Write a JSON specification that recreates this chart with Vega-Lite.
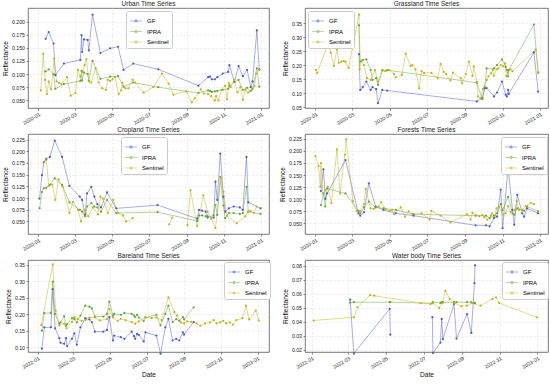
{
"$schema":"https://vega.github.io/schema/vega-lite/v6.json",
"autosize":{"type":"pad"},
"padding":{"left":2,"top":0,"right":6,"bottom":1},
"background":"white",
"config":{
"font":"Liberation Sans",
"view":{"stroke":"#555","strokeWidth":0.8},
"title":{"fontSize":6.5,"fontWeight":"normal","offset":1,"color":"#222","font":"Liberation Sans"},
"axis":{"labelFontSize":5.2,"titleFontSize":6.6,"labelColor":"#222","titleColor":"#111","grid":true,"gridColor":"#dddddd","gridDash":[2,2],"gridWidth":0.6,"domain":false,"tickColor":"#444","tickSize":2,"tickWidth":0.6,"labelPadding":1.5,"titleFontWeight":"normal","titlePadding":3},
"axisX":{"format":"%Y-%m","tickCount":{"interval":"month","step":2},"labelAngle":-30,"labelAlign":"right","labelBaseline":"top","titlePadding":2},
"legend":{"orient":"none","title":null,"fillColor":"white","strokeColor":"#cccccc","padding":3,"cornerRadius":2,"labelFontSize":6,"rowPadding":0.5,"symbolType":"M-1,0H1M-0.22,0a0.22,0.22 0 1,0 0.44,0a0.22,0.22 0 1,0 -0.44,0","symbolSize":150,"symbolStrokeWidth":0.8,"labelOffset":4}
},
"spacing":{"row":0,"column":8},
"columns":2,
"resolve":{"scale":{"x":"independent","y":"independent","color":"independent"},"legend":{"color":"independent"},"axis":{"x":"independent","y":"independent"}},
"data":{"values":[
{"p":"U","s":"GF","d":"2020-01-13","v":0.167},{"p":"U","s":"GF","d":"2020-01-18","v":0.180},{"p":"U","s":"GF","d":"2020-01-26","v":0.158},{"p":"U","s":"GF","d":"2020-01-29","v":0.098},{"p":"U","s":"GF","d":"2020-02-12","v":0.120},{"p":"U","s":"GF","d":"2020-03-10","v":0.127},{"p":"U","s":"GF","d":"2020-03-12","v":0.174},{"p":"U","s":"GF","d":"2020-03-13","v":0.142},{"p":"U","s":"GF","d":"2020-03-16","v":0.166},{"p":"U","s":"GF","d":"2020-03-22","v":0.165},{"p":"U","s":"GF","d":"2020-03-24","v":0.145},{"p":"U","s":"GF","d":"2020-03-30","v":0.213},{"p":"U","s":"GF","d":"2020-04-12","v":0.140},{"p":"U","s":"GF","d":"2020-04-28","v":0.149},{"p":"U","s":"GF","d":"2020-05-11","v":0.152},{"p":"U","s":"GF","d":"2020-05-20","v":0.108},{"p":"U","s":"GF","d":"2020-06-05","v":0.120},{"p":"U","s":"GF","d":"2020-07-16","v":0.109},{"p":"U","s":"GF","d":"2020-09-20","v":0.078},{"p":"U","s":"GF","d":"2020-10-06","v":0.094},{"p":"U","s":"GF","d":"2020-10-09","v":0.095},{"p":"U","s":"GF","d":"2020-10-12","v":0.090},{"p":"U","s":"GF","d":"2020-10-17","v":0.090},{"p":"U","s":"GF","d":"2020-10-21","v":0.094},{"p":"U","s":"GF","d":"2020-10-30","v":0.101},{"p":"U","s":"GF","d":"2020-11-08","v":0.104},{"p":"U","s":"GF","d":"2020-11-10","v":0.117},{"p":"U","s":"GF","d":"2020-11-18","v":0.085},{"p":"U","s":"GF","d":"2020-11-25","v":0.115},{"p":"U","s":"GF","d":"2020-12-02","v":0.096},{"p":"U","s":"GF","d":"2020-12-09","v":0.108},{"p":"U","s":"GF","d":"2020-12-15","v":0.075},{"p":"U","s":"GF","d":"2020-12-18","v":0.086},{"p":"U","s":"GF","d":"2020-12-25","v":0.183},{"p":"U","s":"GF","d":"2020-12-29","v":0.109},
{"p":"U","s":"IPRA","d":"2020-01-13","v":0.105},{"p":"U","s":"IPRA","d":"2020-01-18","v":0.109},{"p":"U","s":"IPRA","d":"2020-01-26","v":0.100},{"p":"U","s":"IPRA","d":"2020-01-29","v":0.072},{"p":"U","s":"IPRA","d":"2020-02-12","v":0.081},{"p":"U","s":"IPRA","d":"2020-03-10","v":0.087},{"p":"U","s":"IPRA","d":"2020-03-12","v":0.106},{"p":"U","s":"IPRA","d":"2020-03-13","v":0.088},{"p":"U","s":"IPRA","d":"2020-03-16","v":0.103},{"p":"U","s":"IPRA","d":"2020-03-22","v":0.100},{"p":"U","s":"IPRA","d":"2020-03-24","v":0.087},{"p":"U","s":"IPRA","d":"2020-03-30","v":0.125},{"p":"U","s":"IPRA","d":"2020-04-12","v":0.091},{"p":"U","s":"IPRA","d":"2020-04-28","v":0.095},{"p":"U","s":"IPRA","d":"2020-05-11","v":0.096},{"p":"U","s":"IPRA","d":"2020-05-20","v":0.076},{"p":"U","s":"IPRA","d":"2020-06-05","v":0.084},{"p":"U","s":"IPRA","d":"2020-07-16","v":0.075},{"p":"U","s":"IPRA","d":"2020-09-20","v":0.064},{"p":"U","s":"IPRA","d":"2020-10-06","v":0.069},{"p":"U","s":"IPRA","d":"2020-10-09","v":0.068},{"p":"U","s":"IPRA","d":"2020-10-12","v":0.066},{"p":"U","s":"IPRA","d":"2020-10-17","v":0.067},{"p":"U","s":"IPRA","d":"2020-10-21","v":0.068},{"p":"U","s":"IPRA","d":"2020-10-30","v":0.070},{"p":"U","s":"IPRA","d":"2020-11-08","v":0.072},{"p":"U","s":"IPRA","d":"2020-11-10","v":0.078},{"p":"U","s":"IPRA","d":"2020-11-18","v":0.085},{"p":"U","s":"IPRA","d":"2020-11-25","v":0.089},{"p":"U","s":"IPRA","d":"2020-12-02","v":0.070},{"p":"U","s":"IPRA","d":"2020-12-09","v":0.074},{"p":"U","s":"IPRA","d":"2020-12-15","v":0.068},{"p":"U","s":"IPRA","d":"2020-12-18","v":0.072},{"p":"U","s":"IPRA","d":"2020-12-25","v":0.111},{"p":"U","s":"IPRA","d":"2020-12-29","v":0.076},
{"p":"U","s":"Sentinel","d":"2020-01-05","v":0.069},{"p":"U","s":"Sentinel","d":"2020-01-09","v":0.139},{"p":"U","s":"Sentinel","d":"2020-01-12","v":0.089},{"p":"U","s":"Sentinel","d":"2020-01-15","v":0.062},{"p":"U","s":"Sentinel","d":"2020-01-18","v":0.086},{"p":"U","s":"Sentinel","d":"2020-01-22","v":0.071},{"p":"U","s":"Sentinel","d":"2020-01-27","v":0.130},{"p":"U","s":"Sentinel","d":"2020-01-31","v":0.086},{"p":"U","s":"Sentinel","d":"2020-02-04","v":0.083},{"p":"U","s":"Sentinel","d":"2020-02-08","v":0.081},{"p":"U","s":"Sentinel","d":"2020-02-17","v":0.094},{"p":"U","s":"Sentinel","d":"2020-02-23","v":0.059},{"p":"U","s":"Sentinel","d":"2020-03-02","v":0.064},{"p":"U","s":"Sentinel","d":"2020-03-06","v":0.108},{"p":"U","s":"Sentinel","d":"2020-03-10","v":0.095},{"p":"U","s":"Sentinel","d":"2020-03-14","v":0.105},{"p":"U","s":"Sentinel","d":"2020-03-17","v":0.117},{"p":"U","s":"Sentinel","d":"2020-03-20","v":0.128},{"p":"U","s":"Sentinel","d":"2020-03-24","v":0.086},{"p":"U","s":"Sentinel","d":"2020-03-28","v":0.084},{"p":"U","s":"Sentinel","d":"2020-04-04","v":0.111},{"p":"U","s":"Sentinel","d":"2020-04-09","v":0.084},{"p":"U","s":"Sentinel","d":"2020-04-15","v":0.073},{"p":"U","s":"Sentinel","d":"2020-04-21","v":0.070},{"p":"U","s":"Sentinel","d":"2020-04-24","v":0.089},{"p":"U","s":"Sentinel","d":"2020-04-28","v":0.087},{"p":"U","s":"Sentinel","d":"2020-05-02","v":0.090},{"p":"U","s":"Sentinel","d":"2020-05-06","v":0.094},{"p":"U","s":"Sentinel","d":"2020-05-12","v":0.062},{"p":"U","s":"Sentinel","d":"2020-05-16","v":0.069},{"p":"U","s":"Sentinel","d":"2020-05-18","v":0.084},{"p":"U","s":"Sentinel","d":"2020-05-23","v":0.073},{"p":"U","s":"Sentinel","d":"2020-05-28","v":0.073},{"p":"U","s":"Sentinel","d":"2020-06-04","v":0.089},{"p":"U","s":"Sentinel","d":"2020-06-08","v":0.084},{"p":"U","s":"Sentinel","d":"2020-06-22","v":0.065},{"p":"U","s":"Sentinel","d":"2020-07-08","v":0.075},{"p":"U","s":"Sentinel","d":"2020-07-22","v":0.101},{"p":"U","s":"Sentinel","d":"2020-08-02","v":0.082},{"p":"U","s":"Sentinel","d":"2020-08-10","v":0.061},{"p":"U","s":"Sentinel","d":"2020-08-31","v":0.067},{"p":"U","s":"Sentinel","d":"2020-09-09","v":0.046},{"p":"U","s":"Sentinel","d":"2020-09-14","v":0.054},{"p":"U","s":"Sentinel","d":"2020-09-24","v":0.071},{"p":"U","s":"Sentinel","d":"2020-09-29","v":0.063},{"p":"U","s":"Sentinel","d":"2020-10-06","v":0.062},{"p":"U","s":"Sentinel","d":"2020-10-11","v":0.058},{"p":"U","s":"Sentinel","d":"2020-10-17","v":0.050},{"p":"U","s":"Sentinel","d":"2020-10-19","v":0.058},{"p":"U","s":"Sentinel","d":"2020-10-23","v":0.050},{"p":"U","s":"Sentinel","d":"2020-10-28","v":0.070},{"p":"U","s":"Sentinel","d":"2020-11-03","v":0.078},{"p":"U","s":"Sentinel","d":"2020-11-06","v":0.052},{"p":"U","s":"Sentinel","d":"2020-11-09","v":0.083},{"p":"U","s":"Sentinel","d":"2020-11-12","v":0.075},{"p":"U","s":"Sentinel","d":"2020-11-18","v":0.089},{"p":"U","s":"Sentinel","d":"2020-11-23","v":0.065},{"p":"U","s":"Sentinel","d":"2020-11-28","v":0.075},{"p":"U","s":"Sentinel","d":"2020-12-02","v":0.051},{"p":"U","s":"Sentinel","d":"2020-12-06","v":0.070},{"p":"U","s":"Sentinel","d":"2020-12-11","v":0.065},{"p":"U","s":"Sentinel","d":"2020-12-17","v":0.070},{"p":"U","s":"Sentinel","d":"2020-12-21","v":0.077},{"p":"U","s":"Sentinel","d":"2020-12-24","v":0.101},{"p":"U","s":"Sentinel","d":"2020-12-29","v":0.108},
{"p":"G","s":"GF","d":"2020-03-12","v":0.239},{"p":"G","s":"GF","d":"2020-03-14","v":0.111},{"p":"G","s":"GF","d":"2020-03-18","v":0.121},{"p":"G","s":"GF","d":"2020-03-24","v":0.141},{"p":"G","s":"GF","d":"2020-03-31","v":0.111},{"p":"G","s":"GF","d":"2020-04-03","v":0.121},{"p":"G","s":"GF","d":"2020-04-09","v":0.114},{"p":"G","s":"GF","d":"2020-04-12","v":0.064},{"p":"G","s":"GF","d":"2020-04-19","v":0.111},{"p":"G","s":"GF","d":"2020-04-27","v":0.109},{"p":"G","s":"GF","d":"2020-09-20","v":0.070},{"p":"G","s":"GF","d":"2020-09-29","v":0.082},{"p":"G","s":"GF","d":"2020-10-03","v":0.117},{"p":"G","s":"GF","d":"2020-10-06","v":0.118},{"p":"G","s":"GF","d":"2020-10-18","v":0.088},{"p":"G","s":"GF","d":"2020-10-23","v":0.102},{"p":"G","s":"GF","d":"2020-10-31","v":0.141},{"p":"G","s":"GF","d":"2020-11-06","v":0.094},{"p":"G","s":"GF","d":"2020-11-08","v":0.088},{"p":"G","s":"GF","d":"2020-11-10","v":0.111},{"p":"G","s":"GF","d":"2020-11-11","v":0.097},{"p":"G","s":"GF","d":"2020-12-22","v":0.245},{"p":"G","s":"GF","d":"2020-12-29","v":0.105},
{"p":"G","s":"IPRA","d":"2020-03-12","v":0.342},{"p":"G","s":"IPRA","d":"2020-03-14","v":0.212},{"p":"G","s":"IPRA","d":"2020-03-18","v":0.218},{"p":"G","s":"IPRA","d":"2020-03-24","v":0.220},{"p":"G","s":"IPRA","d":"2020-03-31","v":0.182},{"p":"G","s":"IPRA","d":"2020-04-03","v":0.147},{"p":"G","s":"IPRA","d":"2020-04-09","v":0.153},{"p":"G","s":"IPRA","d":"2020-04-12","v":0.129},{"p":"G","s":"IPRA","d":"2020-04-19","v":0.182},{"p":"G","s":"IPRA","d":"2020-04-27","v":0.182},{"p":"G","s":"IPRA","d":"2020-09-20","v":0.137},{"p":"G","s":"IPRA","d":"2020-09-29","v":0.078},{"p":"G","s":"IPRA","d":"2020-10-03","v":0.121},{"p":"G","s":"IPRA","d":"2020-10-06","v":0.188},{"p":"G","s":"IPRA","d":"2020-10-18","v":0.188},{"p":"G","s":"IPRA","d":"2020-10-23","v":0.200},{"p":"G","s":"IPRA","d":"2020-10-31","v":0.220},{"p":"G","s":"IPRA","d":"2020-11-06","v":0.194},{"p":"G","s":"IPRA","d":"2020-11-08","v":0.182},{"p":"G","s":"IPRA","d":"2020-11-10","v":0.160},{"p":"G","s":"IPRA","d":"2020-11-11","v":0.182},{"p":"G","s":"IPRA","d":"2020-12-22","v":0.345},{"p":"G","s":"IPRA","d":"2020-12-29","v":0.173},
{"p":"G","s":"Sentinel","d":"2020-01-02","v":0.183},{"p":"G","s":"Sentinel","d":"2020-01-04","v":0.172},{"p":"G","s":"Sentinel","d":"2020-01-22","v":0.279},{"p":"G","s":"Sentinel","d":"2020-01-26","v":0.244},{"p":"G","s":"Sentinel","d":"2020-01-31","v":0.197},{"p":"G","s":"Sentinel","d":"2020-02-05","v":0.256},{"p":"G","s":"Sentinel","d":"2020-02-08","v":0.208},{"p":"G","s":"Sentinel","d":"2020-02-12","v":0.212},{"p":"G","s":"Sentinel","d":"2020-02-16","v":0.214},{"p":"G","s":"Sentinel","d":"2020-02-19","v":0.212},{"p":"G","s":"Sentinel","d":"2020-02-24","v":0.190},{"p":"G","s":"Sentinel","d":"2020-03-12","v":0.380},{"p":"G","s":"Sentinel","d":"2020-03-13","v":0.185},{"p":"G","s":"Sentinel","d":"2020-03-16","v":0.215},{"p":"G","s":"Sentinel","d":"2020-03-20","v":0.200},{"p":"G","s":"Sentinel","d":"2020-03-25","v":0.153},{"p":"G","s":"Sentinel","d":"2020-03-31","v":0.147},{"p":"G","s":"Sentinel","d":"2020-04-07","v":0.182},{"p":"G","s":"Sentinel","d":"2020-04-12","v":0.141},{"p":"G","s":"Sentinel","d":"2020-04-19","v":0.180},{"p":"G","s":"Sentinel","d":"2020-04-24","v":0.178},{"p":"G","s":"Sentinel","d":"2020-04-30","v":0.182},{"p":"G","s":"Sentinel","d":"2020-05-08","v":0.168},{"p":"G","s":"Sentinel","d":"2020-05-11","v":0.156},{"p":"G","s":"Sentinel","d":"2020-05-21","v":0.165},{"p":"G","s":"Sentinel","d":"2020-05-27","v":0.241},{"p":"G","s":"Sentinel","d":"2020-06-04","v":0.197},{"p":"G","s":"Sentinel","d":"2020-06-07","v":0.200},{"p":"G","s":"Sentinel","d":"2020-06-12","v":0.185},{"p":"G","s":"Sentinel","d":"2020-06-18","v":0.117},{"p":"G","s":"Sentinel","d":"2020-06-22","v":0.178},{"p":"G","s":"Sentinel","d":"2020-06-26","v":0.172},{"p":"G","s":"Sentinel","d":"2020-07-08","v":0.172},{"p":"G","s":"Sentinel","d":"2020-07-18","v":0.153},{"p":"G","s":"Sentinel","d":"2020-07-23","v":0.204},{"p":"G","s":"Sentinel","d":"2020-07-28","v":0.176},{"p":"G","s":"Sentinel","d":"2020-08-01","v":0.168},{"p":"G","s":"Sentinel","d":"2020-08-08","v":0.145},{"p":"G","s":"Sentinel","d":"2020-08-12","v":0.173},{"p":"G","s":"Sentinel","d":"2020-08-25","v":0.153},{"p":"G","s":"Sentinel","d":"2020-08-27","v":0.135},{"p":"G","s":"Sentinel","d":"2020-09-02","v":0.168},{"p":"G","s":"Sentinel","d":"2020-09-07","v":0.212},{"p":"G","s":"Sentinel","d":"2020-09-13","v":0.161},{"p":"G","s":"Sentinel","d":"2020-09-15","v":0.195},{"p":"G","s":"Sentinel","d":"2020-09-20","v":0.140},{"p":"G","s":"Sentinel","d":"2020-09-22","v":0.088},{"p":"G","s":"Sentinel","d":"2020-09-26","v":0.081},{"p":"G","s":"Sentinel","d":"2020-09-30","v":0.115},{"p":"G","s":"Sentinel","d":"2020-10-06","v":0.147},{"p":"G","s":"Sentinel","d":"2020-10-09","v":0.160},{"p":"G","s":"Sentinel","d":"2020-10-13","v":0.170},{"p":"G","s":"Sentinel","d":"2020-10-16","v":0.182},{"p":"G","s":"Sentinel","d":"2020-10-18","v":0.162},{"p":"G","s":"Sentinel","d":"2020-10-22","v":0.185},{"p":"G","s":"Sentinel","d":"2020-10-25","v":0.188},{"p":"G","s":"Sentinel","d":"2020-10-29","v":0.200},{"p":"G","s":"Sentinel","d":"2020-11-02","v":0.195},{"p":"G","s":"Sentinel","d":"2020-11-05","v":0.206},{"p":"G","s":"Sentinel","d":"2020-11-07","v":0.160},{"p":"G","s":"Sentinel","d":"2020-11-10","v":0.175},{"p":"G","s":"Sentinel","d":"2020-11-14","v":0.185},{"p":"G","s":"Sentinel","d":"2020-11-17","v":0.178},{"p":"G","s":"Sentinel","d":"2020-12-25","v":0.255},{"p":"G","s":"Sentinel","d":"2020-12-29","v":0.173},
{"p":"C","s":"GF","d":"2020-01-03","v":0.099},{"p":"C","s":"GF","d":"2020-01-07","v":0.149},{"p":"C","s":"GF","d":"2020-01-10","v":0.177},{"p":"C","s":"GF","d":"2020-01-14","v":0.183},{"p":"C","s":"GF","d":"2020-01-20","v":0.188},{"p":"C","s":"GF","d":"2020-01-28","v":0.223},{"p":"C","s":"GF","d":"2020-02-09","v":0.188},{"p":"C","s":"GF","d":"2020-02-21","v":0.126},{"p":"C","s":"GF","d":"2020-03-09","v":0.103},{"p":"C","s":"GF","d":"2020-03-13","v":0.096},{"p":"C","s":"GF","d":"2020-03-18","v":0.064},{"p":"C","s":"GF","d":"2020-03-21","v":0.110},{"p":"C","s":"GF","d":"2020-03-28","v":0.124},{"p":"C","s":"GF","d":"2020-04-02","v":0.103},{"p":"C","s":"GF","d":"2020-04-07","v":0.087},{"p":"C","s":"GF","d":"2020-04-13","v":0.080},{"p":"C","s":"GF","d":"2020-04-23","v":0.112},{"p":"C","s":"GF","d":"2020-05-08","v":0.078},{"p":"C","s":"GF","d":"2020-07-15","v":0.085},{"p":"C","s":"GF","d":"2020-09-18","v":0.056},{"p":"C","s":"GF","d":"2020-09-21","v":0.075},{"p":"C","s":"GF","d":"2020-09-26","v":0.073},{"p":"C","s":"GF","d":"2020-10-02","v":0.071},{"p":"C","s":"GF","d":"2020-10-05","v":0.061},{"p":"C","s":"GF","d":"2020-10-15","v":0.058},{"p":"C","s":"GF","d":"2020-10-18","v":0.135},{"p":"C","s":"GF","d":"2020-10-21","v":0.096},{"p":"C","s":"GF","d":"2020-10-26","v":0.195},{"p":"C","s":"GF","d":"2020-10-31","v":0.103},{"p":"C","s":"GF","d":"2020-11-03","v":0.071},{"p":"C","s":"GF","d":"2020-11-09","v":0.078},{"p":"C","s":"GF","d":"2020-11-17","v":0.082},{"p":"C","s":"GF","d":"2020-11-27","v":0.080},{"p":"C","s":"GF","d":"2020-12-02","v":0.075},{"p":"C","s":"GF","d":"2020-12-08","v":0.188},{"p":"C","s":"GF","d":"2020-12-11","v":0.091},{"p":"C","s":"GF","d":"2020-12-31","v":0.078},
{"p":"C","s":"IPRA","d":"2020-01-03","v":0.078},{"p":"C","s":"IPRA","d":"2020-01-07","v":0.113},{"p":"C","s":"IPRA","d":"2020-01-10","v":0.121},{"p":"C","s":"IPRA","d":"2020-01-14","v":0.122},{"p":"C","s":"IPRA","d":"2020-01-20","v":0.129},{"p":"C","s":"IPRA","d":"2020-01-28","v":0.142},{"p":"C","s":"IPRA","d":"2020-02-09","v":0.128},{"p":"C","s":"IPRA","d":"2020-02-21","v":0.091},{"p":"C","s":"IPRA","d":"2020-03-09","v":0.075},{"p":"C","s":"IPRA","d":"2020-03-13","v":0.071},{"p":"C","s":"IPRA","d":"2020-03-18","v":0.061},{"p":"C","s":"IPRA","d":"2020-03-21","v":0.082},{"p":"C","s":"IPRA","d":"2020-03-28","v":0.089},{"p":"C","s":"IPRA","d":"2020-04-02","v":0.082},{"p":"C","s":"IPRA","d":"2020-04-07","v":0.080},{"p":"C","s":"IPRA","d":"2020-04-13","v":0.071},{"p":"C","s":"IPRA","d":"2020-04-23","v":0.096},{"p":"C","s":"IPRA","d":"2020-05-08","v":0.068},{"p":"C","s":"IPRA","d":"2020-07-15","v":0.070},{"p":"C","s":"IPRA","d":"2020-09-18","v":0.051},{"p":"C","s":"IPRA","d":"2020-09-21","v":0.063},{"p":"C","s":"IPRA","d":"2020-09-26","v":0.063},{"p":"C","s":"IPRA","d":"2020-10-02","v":0.061},{"p":"C","s":"IPRA","d":"2020-10-05","v":0.058},{"p":"C","s":"IPRA","d":"2020-10-15","v":0.063},{"p":"C","s":"IPRA","d":"2020-10-18","v":0.085},{"p":"C","s":"IPRA","d":"2020-10-21","v":0.064},{"p":"C","s":"IPRA","d":"2020-10-26","v":0.145},{"p":"C","s":"IPRA","d":"2020-10-31","v":0.084},{"p":"C","s":"IPRA","d":"2020-11-03","v":0.057},{"p":"C","s":"IPRA","d":"2020-11-09","v":0.068},{"p":"C","s":"IPRA","d":"2020-11-17","v":0.068},{"p":"C","s":"IPRA","d":"2020-11-27","v":0.066},{"p":"C","s":"IPRA","d":"2020-12-02","v":0.068},{"p":"C","s":"IPRA","d":"2020-12-08","v":0.124},{"p":"C","s":"IPRA","d":"2020-12-11","v":0.071},{"p":"C","s":"IPRA","d":"2020-12-31","v":0.066},
{"p":"C","s":"Sentinel","d":"2020-01-11","v":0.178},{"p":"C","s":"Sentinel","d":"2020-01-14","v":0.185},{"p":"C","s":"Sentinel","d":"2020-01-18","v":0.126},{"p":"C","s":"Sentinel","d":"2020-01-24","v":0.129},{"p":"C","s":"Sentinel","d":"2020-01-29","v":0.096},{"p":"C","s":"Sentinel","d":"2020-02-03","v":0.140},{"p":"C","s":"Sentinel","d":"2020-02-10","v":0.124},{"p":"C","s":"Sentinel","d":"2020-02-21","v":0.068},{"p":"C","s":"Sentinel","d":"2020-02-27","v":0.092},{"p":"C","s":"Sentinel","d":"2020-03-06","v":0.075},{"p":"C","s":"Sentinel","d":"2020-03-11","v":0.050},{"p":"C","s":"Sentinel","d":"2020-03-17","v":0.075},{"p":"C","s":"Sentinel","d":"2020-03-23","v":0.061},{"p":"C","s":"Sentinel","d":"2020-03-31","v":0.080},{"p":"C","s":"Sentinel","d":"2020-04-08","v":0.065},{"p":"C","s":"Sentinel","d":"2020-04-12","v":0.103},{"p":"C","s":"Sentinel","d":"2020-04-16","v":0.099},{"p":"C","s":"Sentinel","d":"2020-04-24","v":0.068},{"p":"C","s":"Sentinel","d":"2020-05-03","v":0.096},{"p":"C","s":"Sentinel","d":"2020-05-11","v":0.068},{"p":"C","s":"Sentinel","d":"2020-05-19","v":0.063},{"p":"C","s":"Sentinel","d":"2020-05-24","v":0.050},{"p":"C","s":"Sentinel","d":"2020-06-04","v":0.057},{"p":"C","s":"Sentinel","d":"2020-06-20","v":null},{"p":"C","s":"Sentinel","d":"2020-08-03","v":0.044},{"p":"C","s":"Sentinel","d":"2020-08-08","v":0.058},{"p":"C","s":"Sentinel","d":"2020-08-20","v":null},{"p":"C","s":"Sentinel","d":"2020-09-02","v":0.042},{"p":"C","s":"Sentinel","d":"2020-09-07","v":0.117},{"p":"C","s":"Sentinel","d":"2020-09-18","v":0.040},{"p":"C","s":"Sentinel","d":"2020-09-28","v":0.106},{"p":"C","s":"Sentinel","d":"2020-10-05","v":0.071},{"p":"C","s":"Sentinel","d":"2020-10-11","v":0.056},{"p":"C","s":"Sentinel","d":"2020-10-18","v":0.036},{"p":"C","s":"Sentinel","d":"2020-10-27","v":0.143},{"p":"C","s":"Sentinel","d":"2020-10-31","v":0.113},{"p":"C","s":"Sentinel","d":"2020-11-06","v":0.062},{"p":"C","s":"Sentinel","d":"2020-11-22","v":0.046},{"p":"C","s":"Sentinel","d":"2020-12-06","v":0.061},{"p":"C","s":"Sentinel","d":"2020-12-11","v":0.071},{"p":"C","s":"Sentinel","d":"2020-12-15","v":0.072},{"p":"C","s":"Sentinel","d":"2020-12-20","v":0.068},{"p":"C","s":"Sentinel","d":"2020-12-25","v":0.082},
{"p":"F","s":"GF","d":"2020-01-10","v":0.117},{"p":"F","s":"GF","d":"2020-01-14","v":0.162},{"p":"F","s":"GF","d":"2020-01-17","v":0.101},{"p":"F","s":"GF","d":"2020-01-20","v":0.112},{"p":"F","s":"GF","d":"2020-02-19","v":0.181},{"p":"F","s":"GF","d":"2020-03-11","v":0.071},{"p":"F","s":"GF","d":"2020-03-14","v":0.066},{"p":"F","s":"GF","d":"2020-03-20","v":0.073},{"p":"F","s":"GF","d":"2020-03-28","v":0.133},{"p":"F","s":"GF","d":"2020-04-08","v":0.085},{"p":"F","s":"GF","d":"2020-04-21","v":0.078},{"p":"F","s":"GF","d":"2020-05-11","v":0.071},{"p":"F","s":"GF","d":"2020-06-09","v":0.066},{"p":"F","s":"GF","d":"2020-09-18","v":0.046},{"p":"F","s":"GF","d":"2020-10-05","v":0.046},{"p":"F","s":"GF","d":"2020-10-11","v":0.044},{"p":"F","s":"GF","d":"2020-10-18","v":0.061},{"p":"F","s":"GF","d":"2020-10-23","v":0.064},{"p":"F","s":"GF","d":"2020-10-29","v":0.120},{"p":"F","s":"GF","d":"2020-11-01","v":0.040},{"p":"F","s":"GF","d":"2020-11-10","v":0.165},{"p":"F","s":"GF","d":"2020-11-17","v":0.078},{"p":"F","s":"GF","d":"2020-11-20","v":0.047},{"p":"F","s":"GF","d":"2020-11-25","v":0.109},{"p":"F","s":"GF","d":"2020-12-03","v":0.071},{"p":"F","s":"GF","d":"2020-12-06","v":0.064},{"p":"F","s":"GF","d":"2020-12-11","v":0.081},{"p":"F","s":"GF","d":"2020-12-29","v":0.071},
{"p":"F","s":"IPRA","d":"2020-01-10","v":0.088},{"p":"F","s":"IPRA","d":"2020-01-14","v":0.112},{"p":"F","s":"IPRA","d":"2020-01-17","v":0.085},{"p":"F","s":"IPRA","d":"2020-01-20","v":0.122},{"p":"F","s":"IPRA","d":"2020-02-19","v":0.112},{"p":"F","s":"IPRA","d":"2020-03-11","v":0.076},{"p":"F","s":"IPRA","d":"2020-03-14","v":0.071},{"p":"F","s":"IPRA","d":"2020-03-20","v":0.083},{"p":"F","s":"IPRA","d":"2020-03-28","v":0.095},{"p":"F","s":"IPRA","d":"2020-04-08","v":0.083},{"p":"F","s":"IPRA","d":"2020-04-21","v":0.081},{"p":"F","s":"IPRA","d":"2020-05-11","v":0.078},{"p":"F","s":"IPRA","d":"2020-06-09","v":0.069},{"p":"F","s":"IPRA","d":"2020-09-18","v":0.066},{"p":"F","s":"IPRA","d":"2020-10-05","v":0.066},{"p":"F","s":"IPRA","d":"2020-10-11","v":0.061},{"p":"F","s":"IPRA","d":"2020-10-18","v":0.066},{"p":"F","s":"IPRA","d":"2020-10-23","v":0.071},{"p":"F","s":"IPRA","d":"2020-10-29","v":0.090},{"p":"F","s":"IPRA","d":"2020-11-01","v":0.078},{"p":"F","s":"IPRA","d":"2020-11-10","v":0.105},{"p":"F","s":"IPRA","d":"2020-11-17","v":0.071},{"p":"F","s":"IPRA","d":"2020-11-20","v":0.068},{"p":"F","s":"IPRA","d":"2020-11-25","v":0.081},{"p":"F","s":"IPRA","d":"2020-12-03","v":0.078},{"p":"F","s":"IPRA","d":"2020-12-06","v":0.076},{"p":"F","s":"IPRA","d":"2020-12-11","v":0.085},{"p":"F","s":"IPRA","d":"2020-12-29","v":0.075},
{"p":"F","s":"Sentinel","d":"2020-01-01","v":0.189},{"p":"F","s":"Sentinel","d":"2020-01-06","v":0.169},{"p":"F","s":"Sentinel","d":"2020-01-09","v":0.126},{"p":"F","s":"Sentinel","d":"2020-01-10","v":0.175},{"p":"F","s":"Sentinel","d":"2020-01-13","v":0.112},{"p":"F","s":"Sentinel","d":"2020-01-17","v":0.119},{"p":"F","s":"Sentinel","d":"2020-01-21","v":0.126},{"p":"F","s":"Sentinel","d":"2020-01-27","v":0.092},{"p":"F","s":"Sentinel","d":"2020-02-05","v":0.203},{"p":"F","s":"Sentinel","d":"2020-02-10","v":0.112},{"p":"F","s":"Sentinel","d":"2020-02-18","v":0.192},{"p":"F","s":"Sentinel","d":"2020-02-20","v":0.224},{"p":"F","s":"Sentinel","d":"2020-03-02","v":0.096},{"p":"F","s":"Sentinel","d":"2020-03-08","v":0.076},{"p":"F","s":"Sentinel","d":"2020-03-14","v":0.075},{"p":"F","s":"Sentinel","d":"2020-03-20","v":0.090},{"p":"F","s":"Sentinel","d":"2020-03-23","v":0.121},{"p":"F","s":"Sentinel","d":"2020-03-31","v":0.081},{"p":"F","s":"Sentinel","d":"2020-04-05","v":0.080},{"p":"F","s":"Sentinel","d":"2020-04-13","v":0.085},{"p":"F","s":"Sentinel","d":"2020-04-17","v":0.094},{"p":"F","s":"Sentinel","d":"2020-04-24","v":0.080},{"p":"F","s":"Sentinel","d":"2020-05-01","v":0.076},{"p":"F","s":"Sentinel","d":"2020-05-05","v":0.078},{"p":"F","s":"Sentinel","d":"2020-05-08","v":0.069},{"p":"F","s":"Sentinel","d":"2020-05-19","v":0.083},{"p":"F","s":"Sentinel","d":"2020-05-26","v":0.064},{"p":"F","s":"Sentinel","d":"2020-06-01","v":0.075},{"p":"F","s":"Sentinel","d":"2020-06-07","v":0.069},{"p":"F","s":"Sentinel","d":"2020-06-22","v":0.071},{"p":"F","s":"Sentinel","d":"2020-07-05","v":0.058},{"p":"F","s":"Sentinel","d":"2020-07-08","v":0.076},{"p":"F","s":"Sentinel","d":"2020-07-23","v":0.066},{"p":"F","s":"Sentinel","d":"2020-08-08","v":0.052},{"p":"F","s":"Sentinel","d":"2020-09-04","v":0.069},{"p":"F","s":"Sentinel","d":"2020-09-10","v":0.058},{"p":"F","s":"Sentinel","d":"2020-09-13","v":0.072},{"p":"F","s":"Sentinel","d":"2020-09-24","v":0.065},{"p":"F","s":"Sentinel","d":"2020-09-29","v":0.067},{"p":"F","s":"Sentinel","d":"2020-10-02","v":0.063},{"p":"F","s":"Sentinel","d":"2020-10-07","v":0.058},{"p":"F","s":"Sentinel","d":"2020-10-13","v":0.066},{"p":"F","s":"Sentinel","d":"2020-10-15","v":0.071},{"p":"F","s":"Sentinel","d":"2020-10-20","v":0.066},{"p":"F","s":"Sentinel","d":"2020-10-22","v":0.081},{"p":"F","s":"Sentinel","d":"2020-10-26","v":0.084},{"p":"F","s":"Sentinel","d":"2020-11-02","v":0.068},{"p":"F","s":"Sentinel","d":"2020-11-06","v":0.071},{"p":"F","s":"Sentinel","d":"2020-11-10","v":0.086},{"p":"F","s":"Sentinel","d":"2020-11-14","v":0.074},{"p":"F","s":"Sentinel","d":"2020-11-21","v":0.078},{"p":"F","s":"Sentinel","d":"2020-11-24","v":0.096},{"p":"F","s":"Sentinel","d":"2020-11-28","v":0.078},{"p":"F","s":"Sentinel","d":"2020-12-03","v":0.078},{"p":"F","s":"Sentinel","d":"2020-12-09","v":0.086},{"p":"F","s":"Sentinel","d":"2020-12-17","v":0.092},{"p":"F","s":"Sentinel","d":"2020-12-22","v":0.090},
{"p":"B","s":"GF","d":"2022-01-08","v":0.095},{"p":"B","s":"GF","d":"2022-01-12","v":0.160},{"p":"B","s":"GF","d":"2022-01-23","v":0.160},{"p":"B","s":"GF","d":"2022-01-26","v":0.276},{"p":"B","s":"GF","d":"2022-01-30","v":0.157},{"p":"B","s":"GF","d":"2022-02-06","v":0.127},{"p":"B","s":"GF","d":"2022-02-08","v":0.113},{"p":"B","s":"GF","d":"2022-02-14","v":0.110},{"p":"B","s":"GF","d":"2022-02-17","v":0.127},{"p":"B","s":"GF","d":"2022-02-19","v":0.103},{"p":"B","s":"GF","d":"2022-02-27","v":0.125},{"p":"B","s":"GF","d":"2022-03-03","v":0.142},{"p":"B","s":"GF","d":"2022-03-07","v":0.107},{"p":"B","s":"GF","d":"2022-03-13","v":0.160},{"p":"B","s":"GF","d":"2022-03-21","v":0.188},{"p":"B","s":"GF","d":"2022-03-28","v":0.184},{"p":"B","s":"GF","d":"2022-04-01","v":0.176},{"p":"B","s":"GF","d":"2022-04-06","v":0.147},{"p":"B","s":"GF","d":"2022-04-20","v":0.147},{"p":"B","s":"GF","d":"2022-04-26","v":0.152},{"p":"B","s":"GF","d":"2022-04-30","v":0.191},{"p":"B","s":"GF","d":"2022-05-06","v":0.120},{"p":"B","s":"GF","d":"2022-05-08","v":0.135},{"p":"B","s":"GF","d":"2022-05-19","v":0.130},{"p":"B","s":"GF","d":"2022-05-25","v":0.125},{"p":"B","s":"GF","d":"2022-06-06","v":0.147},{"p":"B","s":"GF","d":"2022-06-10","v":0.133},{"p":"B","s":"GF","d":"2022-06-12","v":0.125},{"p":"B","s":"GF","d":"2022-06-15","v":0.140},{"p":"B","s":"GF","d":"2022-06-18","v":0.137},{"p":"B","s":"GF","d":"2022-06-26","v":0.117},{"p":"B","s":"GF","d":"2022-06-29","v":0.145},{"p":"B","s":"GF","d":"2022-07-17","v":0.135},{"p":"B","s":"GF","d":"2022-07-24","v":0.080},{"p":"B","s":"GF","d":"2022-08-01","v":0.160},{"p":"B","s":"GF","d":"2022-08-06","v":0.186},{"p":"B","s":"GF","d":"2022-08-13","v":0.120},{"p":"B","s":"GF","d":"2022-08-19","v":0.125},{"p":"B","s":"GF","d":"2022-08-24","v":0.120},{"p":"B","s":"GF","d":"2022-08-30","v":0.145},{"p":"B","s":"GF","d":"2022-09-01","v":0.138},{"p":"B","s":"GF","d":"2022-09-17","v":0.176},
{"p":"B","s":"IPRA","d":"2022-01-08","v":0.150},{"p":"B","s":"IPRA","d":"2022-01-12","v":0.203},{"p":"B","s":"IPRA","d":"2022-01-23","v":0.204},{"p":"B","s":"IPRA","d":"2022-01-26","v":0.299},{"p":"B","s":"IPRA","d":"2022-01-30","v":0.201},{"p":"B","s":"IPRA","d":"2022-02-06","v":0.171},{"p":"B","s":"IPRA","d":"2022-02-08","v":0.175},{"p":"B","s":"IPRA","d":"2022-02-14","v":0.194},{"p":"B","s":"IPRA","d":"2022-02-17","v":0.165},{"p":"B","s":"IPRA","d":"2022-02-19","v":0.170},{"p":"B","s":"IPRA","d":"2022-02-27","v":0.188},{"p":"B","s":"IPRA","d":"2022-03-03","v":0.185},{"p":"B","s":"IPRA","d":"2022-03-07","v":0.175},{"p":"B","s":"IPRA","d":"2022-03-13","v":0.196},{"p":"B","s":"IPRA","d":"2022-03-21","v":0.226},{"p":"B","s":"IPRA","d":"2022-03-28","v":0.223},{"p":"B","s":"IPRA","d":"2022-04-01","v":0.218},{"p":"B","s":"IPRA","d":"2022-04-06","v":0.193},{"p":"B","s":"IPRA","d":"2022-04-20","v":0.193},{"p":"B","s":"IPRA","d":"2022-04-26","v":0.201},{"p":"B","s":"IPRA","d":"2022-04-30","v":0.238},{"p":"B","s":"IPRA","d":"2022-05-06","v":0.196},{"p":"B","s":"IPRA","d":"2022-05-08","v":0.201},{"p":"B","s":"IPRA","d":"2022-05-19","v":0.198},{"p":"B","s":"IPRA","d":"2022-05-25","v":0.204},{"p":"B","s":"IPRA","d":"2022-06-06","v":0.201},{"p":"B","s":"IPRA","d":"2022-06-10","v":0.196},{"p":"B","s":"IPRA","d":"2022-06-12","v":0.191},{"p":"B","s":"IPRA","d":"2022-06-15","v":0.198},{"p":"B","s":"IPRA","d":"2022-06-18","v":0.190},{"p":"B","s":"IPRA","d":"2022-06-26","v":0.180},{"p":"B","s":"IPRA","d":"2022-06-29","v":0.190},{"p":"B","s":"IPRA","d":"2022-07-17","v":0.198},{"p":"B","s":"IPRA","d":"2022-07-24","v":0.166},{"p":"B","s":"IPRA","d":"2022-08-01","v":0.201},{"p":"B","s":"IPRA","d":"2022-08-06","v":0.226},{"p":"B","s":"IPRA","d":"2022-08-13","v":0.176},{"p":"B","s":"IPRA","d":"2022-08-19","v":0.185},{"p":"B","s":"IPRA","d":"2022-08-24","v":0.180},{"p":"B","s":"IPRA","d":"2022-08-30","v":0.191},{"p":"B","s":"IPRA","d":"2022-09-01","v":0.184},{"p":"B","s":"IPRA","d":"2022-09-17","v":0.221},
{"p":"B","s":"Sentinel","d":"2022-01-07","v":0.167},{"p":"B","s":"Sentinel","d":"2022-01-26","v":0.352},{"p":"B","s":"Sentinel","d":"2022-01-31","v":0.211},{"p":"B","s":"Sentinel","d":"2022-02-06","v":0.166},{"p":"B","s":"Sentinel","d":"2022-02-14","v":0.171},{"p":"B","s":"Sentinel","d":"2022-02-18","v":0.157},{"p":"B","s":"Sentinel","d":"2022-02-27","v":0.176},{"p":"B","s":"Sentinel","d":"2022-03-03","v":0.191},{"p":"B","s":"Sentinel","d":"2022-03-08","v":0.186},{"p":"B","s":"Sentinel","d":"2022-03-15","v":0.180},{"p":"B","s":"Sentinel","d":"2022-03-22","v":0.183},{"p":"B","s":"Sentinel","d":"2022-03-28","v":0.190},{"p":"B","s":"Sentinel","d":"2022-04-06","v":0.190},{"p":"B","s":"Sentinel","d":"2022-04-14","v":0.181},{"p":"B","s":"Sentinel","d":"2022-04-26","v":0.185},{"p":"B","s":"Sentinel","d":"2022-04-30","v":0.216},{"p":"B","s":"Sentinel","d":"2022-05-06","v":0.190},{"p":"B","s":"Sentinel","d":"2022-05-14","v":0.180},{"p":"B","s":"Sentinel","d":"2022-05-19","v":0.186},{"p":"B","s":"Sentinel","d":"2022-05-27","v":0.182},{"p":"B","s":"Sentinel","d":"2022-06-06","v":0.176},{"p":"B","s":"Sentinel","d":"2022-06-12","v":0.171},{"p":"B","s":"Sentinel","d":"2022-06-18","v":0.178},{"p":"B","s":"Sentinel","d":"2022-06-29","v":0.191},{"p":"B","s":"Sentinel","d":"2022-07-09","v":0.188},{"p":"B","s":"Sentinel","d":"2022-07-17","v":0.190},{"p":"B","s":"Sentinel","d":"2022-07-26","v":0.182},{"p":"B","s":"Sentinel","d":"2022-08-06","v":0.251},{"p":"B","s":"Sentinel","d":"2022-08-16","v":0.206},{"p":"B","s":"Sentinel","d":"2022-08-20","v":0.196},{"p":"B","s":"Sentinel","d":"2022-08-27","v":0.175},{"p":"B","s":"Sentinel","d":"2022-09-01","v":0.172},{"p":"B","s":"Sentinel","d":"2022-09-06","v":0.178},{"p":"B","s":"Sentinel","d":"2022-09-13","v":0.177},{"p":"B","s":"Sentinel","d":"2022-09-22","v":0.172},{"p":"B","s":"Sentinel","d":"2022-09-28","v":0.165},{"p":"B","s":"Sentinel","d":"2022-10-06","v":0.172},{"p":"B","s":"Sentinel","d":"2022-10-14","v":0.175},{"p":"B","s":"Sentinel","d":"2022-10-20","v":0.182},{"p":"B","s":"Sentinel","d":"2022-10-25","v":0.172},{"p":"B","s":"Sentinel","d":"2022-10-31","v":0.175},{"p":"B","s":"Sentinel","d":"2022-11-05","v":0.180},{"p":"B","s":"Sentinel","d":"2022-11-10","v":0.172},{"p":"B","s":"Sentinel","d":"2022-11-16","v":0.175},{"p":"B","s":"Sentinel","d":"2022-11-21","v":0.168},{"p":"B","s":"Sentinel","d":"2022-11-27","v":0.182},{"p":"B","s":"Sentinel","d":"2022-12-07","v":0.188},{"p":"B","s":"Sentinel","d":"2022-12-13","v":0.226},{"p":"B","s":"Sentinel","d":"2022-12-18","v":0.184},{"p":"B","s":"Sentinel","d":"2022-12-29","v":0.211},{"p":"B","s":"Sentinel","d":"2023-01-03","v":0.181},
{"p":"W","s":"GF","d":"2022-03-04","v":0.0558},{"p":"W","s":"GF","d":"2022-03-10","v":0.0172},{"p":"W","s":"GF","d":"2022-05-07","v":0.0493},{"p":"W","s":"GF","d":"2022-05-08","v":0.0307},{"p":"W","s":"GF","d":"2022-06-10","v":null},{"p":"W","s":"GF","d":"2022-07-15","v":0.0433},{"p":"W","s":"GF","d":"2022-07-16","v":0.0176},{"p":"W","s":"GF","d":"2022-07-28","v":0.0250},{"p":"W","s":"GF","d":"2022-07-30","v":0.0420},{"p":"W","s":"GF","d":"2022-08-01","v":0.0275},{"p":"W","s":"GF","d":"2022-08-19","v":0.0527},{"p":"W","s":"GF","d":"2022-08-23","v":0.0279},{"p":"W","s":"GF","d":"2022-09-09","v":0.0455},{"p":"W","s":"GF","d":"2022-09-16","v":0.0320},{"p":"W","s":"GF","d":"2022-09-21","v":0.0677},{"p":"W","s":"GF","d":"2022-09-22","v":0.0805},
{"p":"W","s":"IPRA","d":"2022-03-04","v":0.0537},{"p":"W","s":"IPRA","d":"2022-03-10","v":0.0540},{"p":"W","s":"IPRA","d":"2022-05-07","v":0.0540},{"p":"W","s":"IPRA","d":"2022-05-08","v":0.0540},{"p":"W","s":"IPRA","d":"2022-07-15","v":0.0533},{"p":"W","s":"IPRA","d":"2022-07-16","v":0.0540},{"p":"W","s":"IPRA","d":"2022-07-28","v":0.0535},{"p":"W","s":"IPRA","d":"2022-07-30","v":0.0540},{"p":"W","s":"IPRA","d":"2022-08-01","v":0.0540},{"p":"W","s":"IPRA","d":"2022-08-19","v":0.0540},{"p":"W","s":"IPRA","d":"2022-08-23","v":0.0540},{"p":"W","s":"IPRA","d":"2022-09-09","v":0.0540},{"p":"W","s":"IPRA","d":"2022-09-16","v":0.0540},{"p":"W","s":"IPRA","d":"2022-09-21","v":0.0535},{"p":"W","s":"IPRA","d":"2022-09-22","v":0.0533},
{"p":"W","s":"Sentinel","d":"2022-01-04","v":0.0409},{"p":"W","s":"Sentinel","d":"2022-03-10","v":0.0432},{"p":"W","s":"Sentinel","d":"2022-03-16","v":0.0504},{"p":"W","s":"Sentinel","d":"2022-04-05","v":0.0591},{"p":"W","s":"Sentinel","d":"2022-04-12","v":0.0587},{"p":"W","s":"Sentinel","d":"2022-06-26","v":0.0534},{"p":"W","s":"Sentinel","d":"2022-07-12","v":0.0527},{"p":"W","s":"Sentinel","d":"2022-07-16","v":0.0534},{"p":"W","s":"Sentinel","d":"2022-07-26","v":0.0499},{"p":"W","s":"Sentinel","d":"2022-07-31","v":0.0534},{"p":"W","s":"Sentinel","d":"2022-08-05","v":0.0622},{"p":"W","s":"Sentinel","d":"2022-08-12","v":0.0563},{"p":"W","s":"Sentinel","d":"2022-08-20","v":0.0534},{"p":"W","s":"Sentinel","d":"2022-08-31","v":0.0511},{"p":"W","s":"Sentinel","d":"2022-09-09","v":0.0515},{"p":"W","s":"Sentinel","d":"2022-09-17","v":0.0534},{"p":"W","s":"Sentinel","d":"2022-10-01","v":0.0515},{"p":"W","s":"Sentinel","d":"2022-10-20","v":0.0563},{"p":"W","s":"Sentinel","d":"2022-10-26","v":0.0575},{"p":"W","s":"Sentinel","d":"2022-10-31","v":0.0534},{"p":"W","s":"Sentinel","d":"2022-12-31","v":0.0432}
]},
"concat":[
{"title":"Urban Time Series","width":241,"height":100,
"transform":[{"filter":"datum.p==='U'"}],
"encoding":{
"x":{"field":"d","type":"temporal","title":null,"scale":{"domain":[{"year":2019,"month":12,"date":15},{"year":2021,"month":1,"date":14}]}},
"y":{"field":"v","type":"quantitative","title":"Reflectance","scale":{"domain":[0.0355,0.2257],"nice":false,"zero":false},"axis":{"values":[0.05,0.075,0.1,0.125,0.15,0.175,0.2],"format":".3f"}},
"color":{"field":"s","type":"nominal","scale":{"domain":["GF","IPRA","Sentinel"],"range":["#4b5cc4","#62a83c","#c4b21e"]},"legend":{"legendX":98,"legendY":3}}},
"layer":[{"mark":{"type":"line","strokeWidth":0.9,"opacity":0.55}},{"mark":{"type":"circle","size":5,"opacity":1}}]},
{"title":"Grassland Time Series","width":243,"height":100,
"transform":[{"filter":"datum.p==='G'"}],
"encoding":{
"x":{"field":"d","type":"temporal","title":null,"scale":{"domain":[{"year":2019,"month":12,"date":15},{"year":2021,"month":1,"date":14}]}},
"y":{"field":"v","type":"quantitative","title":"Reflectance","scale":{"domain":[0.0466,0.404],"nice":false,"zero":false},"axis":{"values":[0.05,0.1,0.15,0.2,0.25,0.3,0.35],"format":".2f"}},
"color":{"field":"s","type":"nominal","scale":{"domain":["GF","IPRA","Sentinel"],"range":["#4b5cc4","#62a83c","#c4b21e"]},"legend":{"legendX":3,"legendY":3}}},
"layer":[{"mark":{"type":"line","strokeWidth":0.9,"opacity":0.55}},{"mark":{"type":"circle","size":5,"opacity":1}}]},
{"title":"Cropland Time Series","width":241,"height":100,
"transform":[{"filter":"datum.p==='C'"}],
"encoding":{
"x":{"field":"d","type":"temporal","title":null,"scale":{"domain":[{"year":2019,"month":12,"date":15},{"year":2021,"month":1,"date":14}]}},
"y":{"field":"v","type":"quantitative","title":"Reflectance","scale":{"domain":[0.0232,0.237],"nice":false,"zero":false},"axis":{"values":[0.05,0.075,0.1,0.125,0.15,0.175,0.2,0.225],"format":".3f"}},
"color":{"field":"s","type":"nominal","scale":{"domain":["GF","IPRA","Sentinel"],"range":["#4b5cc4","#62a83c","#c4b21e"]},"legend":{"legendX":93,"legendY":3}}},
"layer":[{"mark":{"type":"line","strokeWidth":0.9,"opacity":0.55}},{"mark":{"type":"circle","size":5,"opacity":1}}]},
{"title":"Forests Time Series","width":243,"height":100,
"transform":[{"filter":"datum.p==='F'"}],
"encoding":{
"x":{"field":"d","type":"temporal","title":null,"scale":{"domain":[{"year":2019,"month":12,"date":15},{"year":2021,"month":1,"date":14}]}},
"y":{"field":"v","type":"quantitative","title":"Reflectance","scale":{"domain":[0.0281,0.235],"nice":false,"zero":false},"axis":{"values":[0.05,0.075,0.1,0.125,0.15,0.175,0.2,0.225],"format":".3f"}},
"color":{"field":"s","type":"nominal","scale":{"domain":["GF","IPRA","Sentinel"],"range":["#4b5cc4","#62a83c","#c4b21e"]},"legend":{"legendX":196,"legendY":3}}},
"layer":[{"mark":{"type":"line","strokeWidth":0.9,"opacity":0.55}},{"mark":{"type":"circle","size":5,"opacity":1}}]},
{"title":"Bareland Time Series","width":241,"height":92,
"transform":[{"filter":"datum.p==='B'"}],
"encoding":{
"x":{"field":"d","type":"temporal","title":"Date","scale":{"domain":[{"year":2021,"month":12,"date":16},{"year":2023,"month":1,"date":20}]}},
"y":{"field":"v","type":"quantitative","title":"Reflectance","scale":{"domain":[0.085,0.365],"nice":false,"zero":false},"axis":{"values":[0.1,0.15,0.2,0.25,0.3,0.35],"format":".2f"}},
"color":{"field":"s","type":"nominal","scale":{"domain":["GF","IPRA","Sentinel"],"range":["#4b5cc4","#62a83c","#c4b21e"]},"legend":{"legendX":196,"legendY":2}}},
"layer":[{"mark":{"type":"line","strokeWidth":0.9,"opacity":0.55}},{"mark":{"type":"circle","size":5,"opacity":1}}]},
{"title":"Water body Time Series","width":243,"height":92,
"transform":[{"filter":"datum.p==='W'"}],
"encoding":{
"x":{"field":"d","type":"temporal","title":"Date","scale":{"domain":[{"year":2021,"month":12,"date":21},{"year":2023,"month":1,"date":18}]}},
"y":{"field":"v","type":"quantitative","title":"Reflectance","scale":{"domain":[0.0183,0.0843],"nice":false,"zero":false},"axis":{"values":[0.02,0.03,0.04,0.05,0.06,0.07,0.08],"format":".2f"}},
"color":{"field":"s","type":"nominal","scale":{"domain":["GF","IPRA","Sentinel"],"range":["#4b5cc4","#62a83c","#c4b21e"]},"legend":{"legendX":197,"legendY":2}}},
"layer":[{"mark":{"type":"line","strokeWidth":0.9,"opacity":0.55}},{"mark":{"type":"circle","size":5,"opacity":1}}]}
]
}
